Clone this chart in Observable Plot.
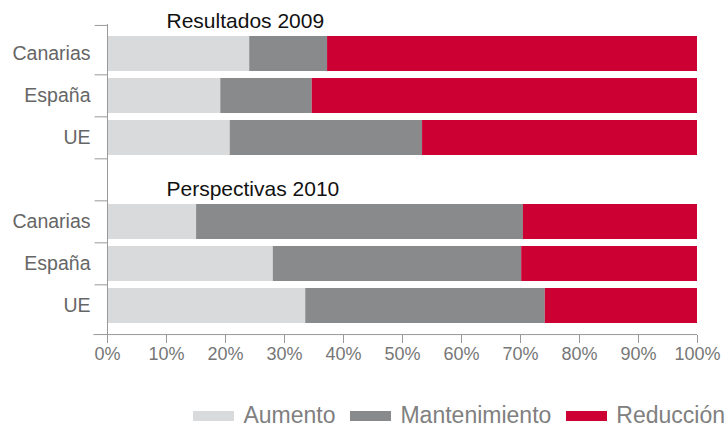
<!DOCTYPE html>
<html><head><meta charset="utf-8">
<script src="https://cdn.jsdelivr.net/npm/d3@7"></script>
<script src="https://cdn.jsdelivr.net/npm/@observablehq/plot@0.6"></script>
<style>
body{margin:0;background:#fff;font-family:"Liberation Sans",Arial,sans-serif;}
#legend{display:flex;justify-content:flex-end;align-items:center;height:27px;padding-top:12px;padding-right:3px;gap:15px;font-size:23px;color:#808080;width:725px;}
.item{display:flex;align-items:center;gap:9px}
.sw{width:41px;height:10px}
</style></head><body><div id="chart"></div><div id="legend"></div>
<script>
// ---- data ----
const regions = ["Canarias", "España", "UE"];
const groups = ["2009", "2010"];
const groupTitles = ["Resultados 2009", "Perspectivas 2010"];
const seriesNames = ["Aumento", "Mantenimiento", "Reducción"];
const seriesColors = ["#d9dadb", "#898a8c", "#cc0033"];
const aumento2009 = [24.1, 19.2, 20.8];
const mantenimiento2009 = [13.2, 15.5, 32.6];
const reduccion2009 = [62.7, 65.3, 46.6];
const aumento2010 = [15.1, 28.1, 33.6];
const mantenimiento2010 = [55.4, 42.1, 40.6];
const reduccion2010 = [29.5, 29.8, 25.8];
const xTicks = [0, 10, 20, 30, 40, 50, 60, 70, 80, 90, 100];

// ---- build table ----
const values = {
  "2009": [aumento2009, mantenimiento2009, reduccion2009],
  "2010": [aumento2010, mantenimiento2010, reduccion2010]
};
const key = (g, r) => g + "|" + r;
const yDomain = [...regions.map(r => key("2009", r)), "gap", ...regions.map(r => key("2010", r))];
const rows = [];
for (const g of groups) regions.forEach((r, i) => seriesNames.forEach((s, j) => rows.push({key: key(g, r), series: s, value: values[g][j][i]})));

// ---- layout ----
const W = 728, H = 390, mt = 24, mb = 55, ml = 107, mr = 31;
const pInner = 0.17, pOuter = 0.26;
const frameH = H - mt - mb;
const step = frameH / (yDomain.length - pInner + 2 * pOuter);
const bw = step * (1 - pInner);
const firstStart = (frameH - step * (yDomain.length - pInner)) / 2;
const edgeOffset = firstStart + bw / 2;
const axisColor = "#999";

const plot = Plot.plot({
  width: W, height: H,
  marginTop: mt, marginBottom: mb, marginLeft: ml, marginRight: mr,
  style: {fontFamily: "'Liberation Sans', Arial, sans-serif", background: "#fff"},
  x: {domain: [0, 100], axis: null},
  y: {domain: yDomain, paddingInner: pInner, paddingOuter: pOuter, axis: null},
  color: {domain: seriesNames, range: seriesColors},
  marks: [
    Plot.barX(rows, {x: "value", y: "key", fill: "series"}),
    Plot.ruleX([0], {stroke: axisColor}),
    Plot.ruleY(yDomain.slice(1), {y: d => d, dy: -step / 2, x1: -2.1, x2: 0, stroke: axisColor}),
    Plot.ruleY(yDomain.slice(0, 1), {y: d => d, dy: -edgeOffset, x1: -2.1, x2: 0, stroke: axisColor}),
    Plot.ruleY(yDomain.slice(-1), {y: d => d, dy: edgeOffset, x1: -2.3, x2: 100, stroke: axisColor}),
    Plot.axisY({label: null, tickSize: 0, tickPadding: 17, tickFormat: k => k === "gap" ? "" : k.split("|")[1], fontSize: 19.5, fill: "#666"}),
    Plot.axisX(xTicks, {label: null, anchor: "bottom", tickSize: 8, tickPadding: 4, tickFormat: d => d + "%", fontSize: 18, fill: "#777", stroke: axisColor}),
    Plot.text(groupTitles, {y: (d, i) => key(groups[i], regions[0]), frameAnchor: "left", textAnchor: "start", dx: 59, dy: -33, fontSize: 21, fill: "#111"})
  ]
});
document.getElementById("chart").appendChild(plot);

const legend = document.getElementById("legend");
seriesNames.forEach((s, i) => {
  const item = document.createElement("div");
  item.className = "item";
  const sw = document.createElement("span");
  sw.className = "sw";
  sw.style.background = seriesColors[i];
  const t = document.createElement("span");
  t.textContent = s;
  item.appendChild(sw); item.appendChild(t);
  legend.appendChild(item);
});
</script></body></html>
